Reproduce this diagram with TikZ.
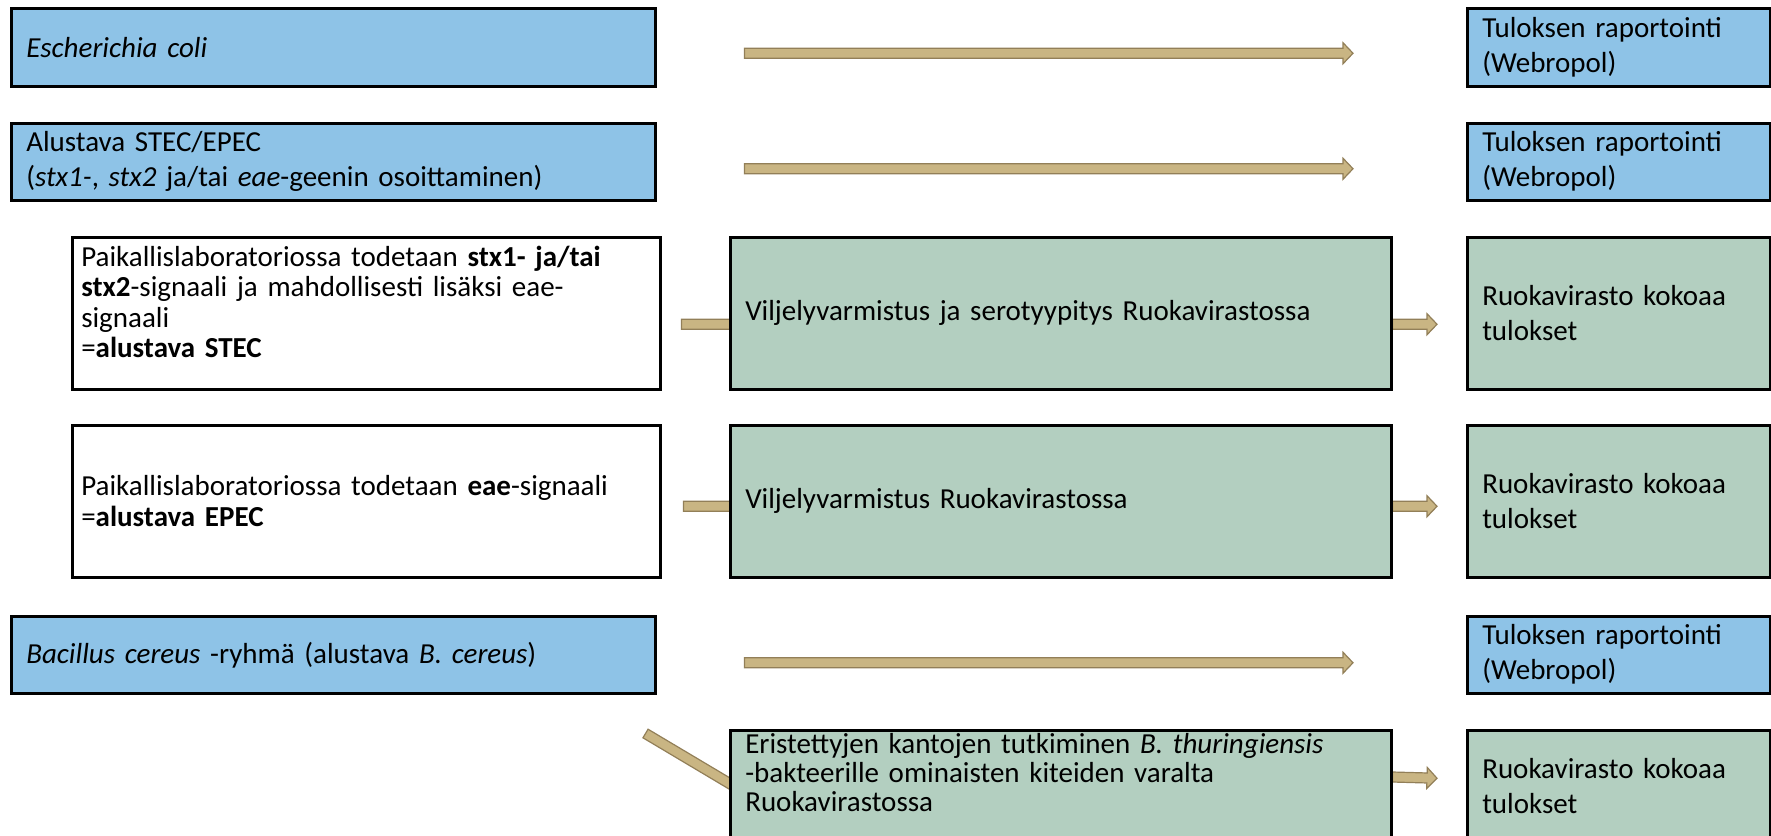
\documentclass[tikz,border=0pt]{standalone}
\usepackage{fontspec}
\setmainfont{Carlito}
\usepackage{tikz}
\usetikzlibrary{calc,backgrounds}
\definecolor{kblue}{RGB}{142,195,231}
\definecolor{kgreen}{RGB}{179,207,192}
\definecolor{ktan}{RGB}{201,181,131}
\definecolor{ktanline}{RGB}{146,127,88}
\tikzset{
  box/.style     ={rectangle, draw=black, line width=2.5pt, anchor=north west,
                   align=left, inner xsep=15pt, inner ysep=3pt,
                   font=\fontsize{29pt}{35pt}\selectfont},
  tight/.style   ={font=\fontsize{29pt}{30.5pt}\selectfont},
  bluebox/.style ={box, fill=kblue},
  greenbox/.style={box, fill=kgreen},
  whitebox/.style={box, fill=white, inner xsep=9pt, tight},
  blk/.style     ={draw=ktanline, fill=ktan, line width=1.2pt, to path={
     let \p1=(\tikztostart), \p2=(\tikztotarget),
         \p3=($(\p2)!10pt!(\p1)$), \n1={atan2(\y2-\y1,\x2-\x1)} in
     ($(\p1)+(\n1+90:5pt)$) -- ($(\p3)+(\n1+90:5pt)$) -- ($(\p3)+(\n1+90:10.5pt)$)
     -- (\p2) -- ($(\p3)+(\n1-90:10.5pt)$) -- ($(\p3)+(\n1-90:5pt)$)
     -- ($(\p1)+(\n1-90:5pt)$) -- cycle}}
}

\begin{document}
\begin{tikzpicture}[x=1pt, y=-1pt]
\useasboundingbox (0,0) rectangle (1771,835);
% left column
\node[bluebox, minimum width=644pt, minimum height=78pt, text width=614pt] (ecoli) at (10,7)
  {\textit{Escherichia coli}};
\node[bluebox, minimum width=644pt, minimum height=77pt, text width=614pt] (stec) at (10,122)
  {Alustava STEC/EPEC\\(\textit{stx1-}, \textit{stx2} ja/tai \textit{eae}-geenin osoittaminen)};
\node[whitebox, minimum width=588pt, minimum height=152pt, text width=570pt, text depth=114pt] (white1) at (71,236)
  {Paikallislaboratoriossa todetaan \textbf{stx1- ja/tai}\\
   \textbf{stx2}-signaali ja mahdollisesti lisäksi eae-\\signaali\\=\textbf{alustava STEC}};
\node[whitebox, minimum width=588pt, minimum height=152pt, text width=570pt] (white2) at (71,424)
  {Paikallislaboratoriossa todetaan \textbf{eae}-signaali\\=\textbf{alustava EPEC}};
\node[bluebox, minimum width=644pt, minimum height=77pt, text width=614pt] (bac) at (10,615)
  {\textit{Bacillus cereus} -ryhmä (alustava \textit{B. cereus})};
% middle column
\node[greenbox, minimum width=661pt, minimum height=152pt, text width=631pt] (green1) at (729,236)
  {Viljelyvarmistus ja serotyypitys Ruokavirastossa};
\node[greenbox, minimum width=661pt, minimum height=152pt, text width=631pt] (green2) at (729,424)
  {Viljelyvarmistus Ruokavirastossa};
\node[greenbox, font=\fontsize{29pt}{29pt}\selectfont, minimum width=661pt, text width=631pt,
      text depth=140pt] (green3) at (729,729)
  {Eristettyjen kantojen tutkiminen \textit{B. thuringiensis}\\
   -bakteerille ominaisten kiteiden varalta\\Ruokavirastossa};
% right column
\node[bluebox, minimum width=303pt, minimum height=78pt, text width=273pt] (tulos1) at (1466,7)
  {Tuloksen raportointi\\(Webropol)};
\node[bluebox, minimum width=303pt, minimum height=77pt, text width=273pt] (tulos2) at (1466,122)
  {Tuloksen raportointi\\(Webropol)};
\node[greenbox, minimum width=303pt, minimum height=152pt, text width=273pt] (ruoka1) at (1466,236)
  {Ruokavirasto kokoaa\\tulokset};
\node[greenbox, minimum width=303pt, minimum height=152pt, text width=273pt] (ruoka2) at (1466,424)
  {Ruokavirasto kokoaa\\tulokset};
\node[bluebox, minimum width=303pt, minimum height=77pt, text width=273pt] (tulos3) at (1466,615)
  {Tuloksen raportointi\\(Webropol)};
\node[greenbox, minimum width=303pt, minimum height=112pt, text width=273pt] (ruoka3) at (1466,729)
  {Ruokavirasto kokoaa\\tulokset};
% block arrows, under the boxes
\begin{scope}[on background layer]
\draw[blk] ([shift={(88,6)}]ecoli.east) to ([shift={(-113,6)}]tulos1.west);
\draw[blk] ([shift={(88,7)}]stec.east) to ([shift={(-113,7)}]tulos2.west);
\draw[blk] ([shift={(88,8)}]bac.east) to ([shift={(-113,8)}]tulos3.west);
\draw[blk] ([shift={(20,11)}]white1.east) to ([shift={(40,11)}]green1.west);
\draw[blk] ([shift={(22,5)}]white2.east) to ([shift={(40,5)}]green2.west);
\draw[blk] ([shift={(-11,39)}]bac.south east) to ([shift={(40,78)}]green3.north west);
\draw[blk] ([yshift=-11pt]green1.east) to ([shift={(-29,11)}]ruoka1.west);
\draw[blk] ([yshift=-5pt]green2.east) to ([shift={(-29,5)}]ruoka2.west);
\draw[blk] ([yshift=-48pt]green3.north east) to ([shift={(-29,-8)}]ruoka3.west);
\end{scope}
\end{tikzpicture}
\end{document}
